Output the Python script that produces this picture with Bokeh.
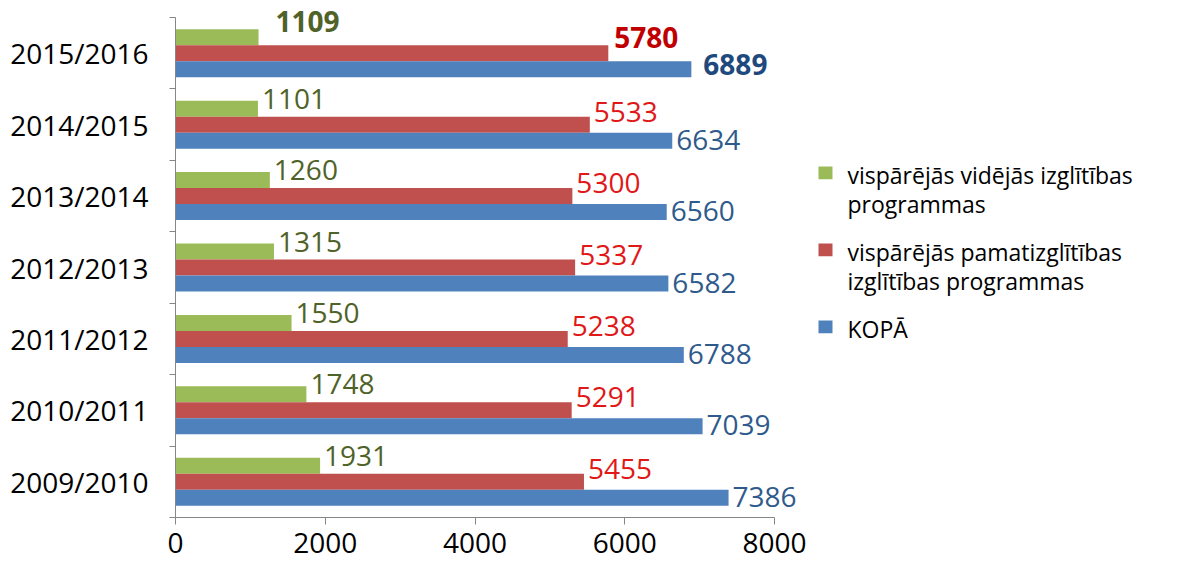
from bokeh.plotting import figure
from bokeh.models import ColumnDataSource, Range1d, FixedTicker
from bokeh.transform import dodge
from bokeh.layouts import row
from bokeh.core.properties import value
from bokeh.embed import file_html
from bokeh.resources import INLINE

# ---- data ----
years = ["2009/2010", "2010/2011", "2011/2012", "2012/2013", "2013/2014", "2014/2015", "2015/2016"]
videjas = [1931, 1748, 1550, 1315, 1260, 1101, 1109]
pamat = [5455, 5291, 5238, 5337, 5300, 5533, 5780]
kopa = [7386, 7039, 6788, 6582, 6560, 6634, 6889]
series_names = ["vispārējās vidējās izglītības\nprogrammas",
                "vispārējās pamatizglītības\nizglītības programmas",
                "KOPĀ"]
x_ticks = [0, 2000, 4000, 6000, 8000]

bar_colors = ["#9BBB59", "#C0504D", "#4F81BD"]
lab_colors = ["#4F6228", "#E01818", "#2F5A8C"]
lab_colors_bold = ["#4F6228", "#C00000", "#1F497D"]

FONT = "Open Sans"
n_cat = len(years)
pos = [i + 0.5 for i in range(n_cat)]

# frame extends a little above the top category so labels above the top bar are not clipped
p = figure(width=808, height=562, output_backend="svg", toolbar_location=None,
           x_range=Range1d(0, 8400), y_range=Range1d(0, n_cat + 0.21),
           min_border_left=175, min_border_right=4, min_border_top=2, min_border_bottom=45)
p.outline_line_color = None
p.xgrid.visible = False
p.ygrid.visible = False

bh = 0.224
offsets = [bh, 0.0, -bh]
# label nudges (px): normal rows / highlighted (bold) latest row
yoffs = [-10, -13, -1]
yoffs_bold = [-16, -16, -5]
xoffs = [4, 4, 4]
xoffs_bold = [17, 6, 12]
for k, vals in enumerate([videjas, pamat, kopa]):
    n = len(vals)
    last = [i == n - 1 for i in range(n)]
    src = ColumnDataSource(dict(
        pos=pos, val=vals, lab=[str(v) for v in vals],
        style=["bold" if b else "normal" for b in last],
        col=[lab_colors_bold[k] if b else lab_colors[k] for b in last],
        xo=[xoffs_bold[k] if b else xoffs[k] for b in last],
        yo=[yoffs_bold[k] if b else yoffs[k] for b in last],
    ))
    p.hbar(y=dodge("pos", offsets[k], range=p.y_range), left=0, right="val", height=bh,
           source=src, fill_color=bar_colors[k], line_color=None)
    p.text(x="val", y=dodge("pos", offsets[k], range=p.y_range), text="lab", source=src,
           x_offset="xo", y_offset="yo", text_align="left", text_baseline="middle",
           text_font=value(FONT), text_font_size="28px", text_font_style="style",
           text_color="col")

axc = "#868686"
xa = p.xaxis[0]
xa.ticker = FixedTicker(ticks=x_ticks)
xa.bounds = (0, 8000)
xa.axis_line_color = axc
xa.major_tick_line_color = axc
xa.major_tick_in = 0
xa.major_tick_out = 7
xa.minor_tick_line_color = None
xa.major_label_standoff = 8
xa.major_label_text_font = FONT
xa.major_label_text_font_size = "28px"
xa.major_label_text_color = "#000000"

ya = p.yaxis[0]
ya.ticker = FixedTicker(ticks=pos, minor_ticks=list(range(n_cat + 1)))
ya.bounds = (0, n_cat)
ya.major_label_overrides = {pp: y for pp, y in zip(pos, years)}
ya.axis_line_color = axc
ya.major_tick_line_color = None
ya.major_tick_in = 0
ya.major_tick_out = 0
ya.minor_tick_line_color = axc
ya.minor_tick_in = 0
ya.minor_tick_out = 6
ya.major_label_standoff = 21
ya.major_label_text_font = FONT
ya.major_label_text_font_size = "28px"
ya.major_label_text_color = "#000000"

# ---- legend panel ----
leg = figure(width=352, height=562, output_backend="svg", toolbar_location=None,
             x_range=Range1d(0, 352), y_range=Range1d(562, 0),
             min_border=0)
leg.axis.visible = False
leg.xgrid.visible = False
leg.ygrid.visible = False
leg.outline_line_color = None

item_y = [186, 270, 354]
line_gap = 32
leg.rect(x=17, y=item_y, width=14, height=14, fill_color=bar_colors, line_color=None)
tx, ty, tt = [], [], []
for yy, name in zip(item_y, series_names):
    for j, line in enumerate(name.split("\n")):
        tx.append(39)
        ty.append(yy + 2 + j * line_gap)
        tt.append(line)
leg.text(x=tx, y=ty, text=tt, text_align="left", text_baseline="middle",
         text_font=value(FONT), text_font_size="23px", text_color="#000000")

layout = row(p, leg)
open("out.html", "w").write(file_html(layout, INLINE))
